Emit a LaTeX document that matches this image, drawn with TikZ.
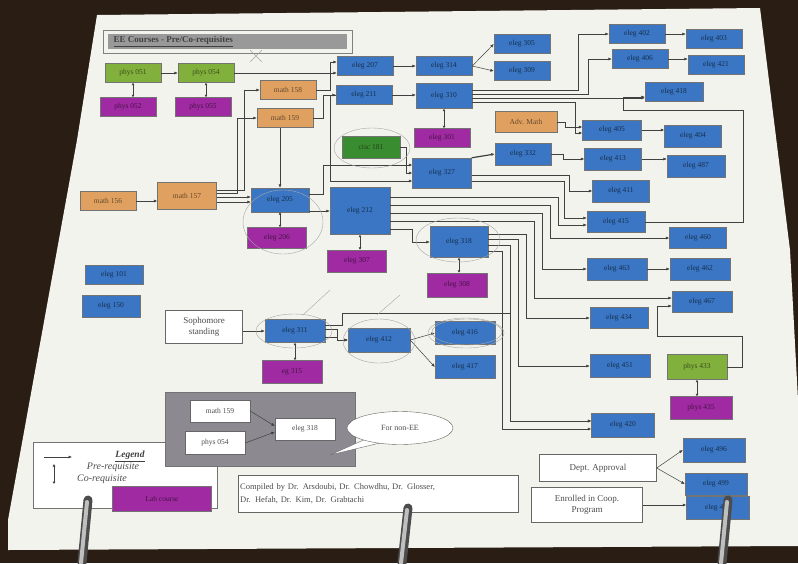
\documentclass[tikz,border=0pt]{standalone}
\usepackage{fontspec}
\setmainfont{Liberation Serif}
\usetikzlibrary{arrows.meta,shapes.geometric}

\definecolor{bgdark}{HTML}{2A1E14}
\definecolor{paper}{HTML}{F3F3EE}
\definecolor{eeblue}{HTML}{3A76C4}
\definecolor{labpurple}{HTML}{A02AA2}
\definecolor{mathorange}{HTML}{E0A060}
\definecolor{physgreen}{HTML}{82B03C}
\definecolor{cisgreen}{HTML}{3A8C30}
\definecolor{exgray}{HTML}{8C8A90}

\tikzset{
  crs/.style={draw=black!55, minimum width=56, minimum height=19, inner sep=0pt,
    font=\fontsize{7.5}{8}\selectfont},
  ee/.style={crs, fill=eeblue, text=black!60!eeblue},
  lab/.style={crs, fill=labpurple, text=black!55!labpurple},
  mth/.style={crs, fill=mathorange, text=black!55!mathorange},
  phy/.style={crs, fill=physgreen, text=black!55!physgreen},
  wbox/.style={draw=black!60, fill=white, inner sep=2pt, align=center,
    font=\fontsize{9}{10.5}\selectfont, text=black!70},
  pre/.style={draw=black!75, line width=0.5pt, -{Latex[length=3.5pt,width=3pt]}},
  coreq/.style={draw=black!75, line width=0.6pt,
    {Latex[length=2.5pt,width=3pt]}-{Latex[length=2.5pt,width=3pt]}},
  pencil/.style={draw=black!35, line width=0.4pt},
}

\begin{document}
\begin{tikzpicture}[x=1pt,y=-1pt]
  \useasboundingbox (0,0) rectangle (798,563);

  % photo background and sheet
  \fill[bgdark] (0,0) rectangle (798,563);
  \fill[paper] (97,15) -- (760,8) -- (790,250) -- (798,400) -- (798,546)
    -- (8,550) -- (8,520) -- (77,140) -- cycle;

  % title
  \draw[black!50] (103,30) rectangle (352,53);
  \fill[black!40] (108,34) rectangle (347,49);
  \node[anchor=west, font=\fontsize{9}{10}\selectfont\bfseries, text=black!75]
    (title) at (110,41.5) {\underline{EE Courses - Pre/Co-requisites}};

  % physics and math
  \node[phy] (p51) at (133,73) {phys 051};
  \node[phy] (p54) at (206,73) {phys 054};
  \node[lab] (p52) at (128,107) {phys 052};
  \node[lab] (p55) at (203,107) {phys 055};
  \node[mth] (m158) at (288,90) {math 158};
  \node[mth] (m159) at (285,118) {math 159};
  \node[mth] (m156) at (108,201) {math 156};
  \node[mth, minimum width=59, minimum height=27] (m157) at (187,196) {math 157};

  % sophomore courses
  \node[ee] (e207) at (365,66) {eleg 207};
  \node[ee] (e211) at (364,95) {eleg 211};
  \node[ee, minimum width=58, minimum height=24] (e205) at (280,200) {eleg 205};
  \node[lab, minimum width=59, minimum height=21] (e206) at (277,238) {eleg 206};
  \node[ee, minimum width=60, minimum height=47] (e212) at (360,211) {eleg 212};
  \node[lab, minimum width=59, minimum height=22] (e307) at (357,261) {eleg 307};
  \node[ee, fill=cisgreen, text=black!50!cisgreen, minimum width=58, minimum height=22]
    (c181) at (371,147) {cisc 181};
  \node[ee, minimum width=58] (e101) at (114,275) {eleg 101};
  \node[ee, minimum width=58, minimum height=22] (e150) at (111,306) {eleg 150};

  % junior courses
  \node[ee] (e314) at (444,66) {eleg 314};
  \node[ee, minimum height=25] (e310) at (444,96) {eleg 310};
  \node[lab] (e301) at (442,138) {eleg 301};
  \node[ee] (e305) at (522,44) {eleg 305};
  \node[ee] (e309) at (522,71) {eleg 309};
  \node[mth, minimum width=62, minimum height=21] (adv) at (526,122) {Adv. Math};
  \node[ee, minimum width=59, minimum height=30] (e327) at (442,173) {eleg 327};
  \node[ee, minimum height=22] (e332) at (523,154) {eleg 332};
  \node[ee, minimum width=58, minimum height=31] (e318) at (459,242) {eleg 318};
  \node[lab, minimum width=60, minimum height=24] (e308) at (457,285) {eleg 308};
  \node[wbox, minimum width=77, minimum height=33] (soph) at (204,327) {Sophomore\\standing};
  \node[ee, minimum width=60, minimum height=23] (e311) at (295,331) {eleg 311};
  \node[lab, minimum width=60, minimum height=23] (eg315) at (292,372) {eg 315};
  \node[ee, minimum width=62, minimum height=24] (e412) at (379,340) {eleg 412};
  \node[ee, minimum width=60, minimum height=23] (e416) at (465,333) {eleg 416};
  \node[ee, minimum width=60, minimum height=23] (e417) at (465,367) {eleg 417};

  % senior courses
  \node[ee] (e402) at (637,34) {eleg 402};
  \node[ee] (e403) at (714,39) {eleg 403};
  \node[ee] (e406) at (640,59) {eleg 406};
  \node[ee] (e421) at (716,65) {eleg 421};
  \node[ee, minimum width=58] (e418) at (674,92) {eleg 418};
  \node[ee, minimum width=59, minimum height=20] (e405) at (612,130) {eleg 405};
  \node[ee, minimum width=57, minimum height=22] (e404) at (693,136) {eleg 404};
  \node[ee, minimum width=57, minimum height=22] (e413) at (613,159) {eleg 413};
  \node[ee, minimum width=58, minimum height=22] (e487) at (696,166) {eleg 487};
  \node[ee, minimum width=57, minimum height=22] (e411) at (621,191) {eleg 411};
  \node[ee, minimum width=58, minimum height=21] (e415) at (616,222) {eleg 415};
  \node[ee, minimum width=57, minimum height=21] (e460) at (698,238) {eleg 460};
  \node[ee, minimum width=60, minimum height=22] (e463) at (617,269) {eleg 463};
  \node[ee, minimum width=60, minimum height=22] (e462) at (700,269) {eleg 462};
  \node[ee, minimum width=60, minimum height=21] (e467) at (702,302) {eleg 467};
  \node[ee, minimum width=58, minimum height=21] (e434) at (619,318) {eleg 434};
  \node[ee, minimum width=60, minimum height=23] (e451) at (620,366) {eleg 451};
  \node[phy, minimum width=60, minimum height=25] (p433) at (697,367) {phys 433};
  \node[lab, minimum width=62, minimum height=23] (p435) at (701,408) {phys 435};
  \node[ee, minimum width=63, minimum height=24] (e420) at (623,425) {eleg 420};
  \node[ee, minimum width=62, minimum height=24] (e496) at (714,450) {eleg 496};
  \node[ee, minimum width=62, minimum height=22] (e499) at (716,484) {eleg 499};
  \node[ee, minimum width=63, minimum height=23] (e497) at (718,508) {eleg 497};
  \node[wbox, minimum width=117, minimum height=27] (dept) at (598,468) {Dept. Approval};
  \node[wbox, minimum width=111, minimum height=35] (coop) at (587,505) {Enrolled in Coop.\\Program};

  % pre- and co-requisites, left part
  \draw[pre] (p51) -- (p54);
  \draw[coreq] (p51.south) -- (p51.south |- p52.north);
  \draw[coreq] (p54.south) -- (p54.south |- p55.north);
  \draw[pre] (p54.east) -- (p54.east -| e207.west);
  \draw[pre] (m158.east) -- ++(14,0) |- ([yshift=4]e207.west);
  \draw[pre] (m159.east) -- ++(10,0) |- (e211.west);
  \draw[pre] (m156.east) -- (m156.east -| m157.west);
  \draw[pre] ([yshift=6]m157.east) -- ++(28,0) |- (m158.west);
  \draw[pre] ([yshift=3]m157.east) -- ++(21,0) |- (m159.west);
  \draw[pre] ([yshift=-1]m157.east) -- ([yshift=-1]m157.east -| e205.west);
  \draw[pre] ([yshift=-6]m157.east) -- ([yshift=-6]m157.east -| e205.west);
  \draw[pre] (m159.south -| e205.north) -- (e205.north);
  \draw[coreq] (e205.south) -- (e205.south |- e206.north);
  \draw[pre] (e205.east |- e212.west) -- (e212.west);
  \draw[pre] ([yshift=6]e205.east) -- ++(14,0) |- ([yshift=8]e327.west);
  \draw[pre] (c181.east) -- ++(6,0) |- (e327.west);
  \draw[pre] (e211.west) -- ++(-6,0) |- ([yshift=-8]e327.west);
  \draw[coreq] (e212.south) -- (e212.south |- e307.north);

  % junior to senior
  \draw[pre] (e207) -- (e314);
  \draw[pre] (e211.east) -- (e211.east -| e310.west);
  \draw[pre] (e314.east) -- (e305.west);
  \draw[pre] (e314.east) -- (e309.west);
  \draw[coreq] (e310.south) -- (e310.south |- e301.north);
  \draw[pre] ([yshift=6]e310.east) -- ++(106,0) |- (e402.west);
  \draw[pre] ([yshift=2]e310.east) -- ++(116,0) |- (e406.west);
  \draw[pre] ([yshift=-2]e310.east) -- ([yshift=-2]e310.east -| e418.west);
  \draw[pre] ([yshift=-6]e310.east) -- ++(103,0) |- ([yshift=-3]e405.west);
  \draw[pre] (adv.east) -- ++(8,0) |- ([yshift=3]e405.west);
  \draw[pre] (e402.east) -- (e402.east -| e403.west);
  \draw[pre] (e406.east) -- (e406.east -| e421.west);
  \draw[pre] (e405.east) -- (e405.east -| e404.west);
  \draw[pre] (e413.east) -- (e413.east -| e487.west);
  \draw[pre, line width=1.2pt] (e327.north east) -- (e332.west);
  \draw[pre] (e332.east) -- ++(12,0) |- (e413.west);
  \draw[pre] ([yshift=-2]e327.east) -- ++(98,0) |- (e411.west);
  \draw[pre] ([yshift=-8]e327.east) -- ++(93,0) |- ([yshift=4]e415.west);
  \draw[pre] ([yshift=14]e212.east) -- ++(168,0) |- ([yshift=-3]e415.west);
  \draw[pre] ([yshift=6]e212.east) -- ++(160,0) |- (e460.west);
  \draw[pre] ([yshift=-2]e212.east) -- ++(152,0) |- (e463.west);
  \draw[pre] ([yshift=-10]e212.east) -- ++(144,0) |- ([yshift=4]e467.west);
  \draw[pre] ([yshift=-18]e212.east) -- ++(22,0) |- (e318.west);
  \draw[coreq] (e318.south) -- (e318.south |- e308.north);
  \draw[pre] ([yshift=8]e318.east) -- ++(38,0) |- (e434.west);
  \draw[pre] ([yshift=3]e318.east) -- ++(30,0) |- (e451.west);
  \draw[pre] ([yshift=-3]e318.east) -- ++(22,0) |- ([yshift=4]e420.west);
  \draw[pre] ([yshift=-9]e318.east) -- ++(14,0) |- ([yshift=-4]e420.west);
  \draw[pre] (e463) -- (e462);
  \draw[pre] (e415.east) -- ++(98,0) |- ([xshift=-22,yshift=-18]e418.west)
    |- ([yshift=-5]e418.west);
  \draw[coreq] (p433.south) -- (p433.south |- p435.north);
  \draw[pre] (p433.east) -- ++(15,0) |- ([xshift=-15,yshift=-34]e467.west)
    |- ([yshift=-4]e467.west);

  % lower part
  \draw[pre] (soph.east |- e311.west) -- (e311.west);
  \draw[coreq] (e311.south) -- (e311.south |- eg315.north);
  \draw[pre] ([yshift=2]e311.east) -- ++(12,0) |- (e412.west);
  \draw[pre] ([yshift=-6]e311.east) -- ++(12,0) |- (e412.west);
  \draw[pre] ([yshift=6]e311.east) -- ++(17,0) -- ++(0,-12) -- ++(168,0)
    |- ([yshift=4]e420.west);
  \draw[pre] (e412.east) -- (e416.west);
  \draw[pre] (e412.east) -- (e417.west);
  \draw[pre] (dept.east) -- (e496.west);
  \draw[pre] (dept.east) -- (e499.west);
  \draw[pre] (coop.east) -- (coop.east -| e497.west);

  % legend
  \draw[black!55, fill=white] (33,442) rectangle (217,508);
  \node[font=\fontsize{9.5}{10}\selectfont\bfseries\itshape, text=black!75] (lgd) at (130,456) {\underline{Legend}};
  \coordinate (la) at (44,457);
  \coordinate (lb) at (72,457);
  \draw[pre] (la) -- (lb);
  \coordinate (lc) at (54,464);
  \coordinate (ld) at (54,484);
  \draw[coreq] (lc) -- (ld);
  \node[font=\fontsize{10}{10}\selectfont\itshape, text=black!70] (lpre) at (113,467) {Pre-requisite};
  \node[font=\fontsize{10}{10}\selectfont\itshape, text=black!70] (lco) at (102,479) {Co-requisite};
  \node[lab, minimum width=99, minimum height=25] (llab) at (162,499) {Lab course};

  % example box
  \draw[black!55, fill=exgray] (165,392) rectangle (355,466);
  \node[wbox, minimum width=60, minimum height=22, font=\fontsize{7.5}{8}\selectfont] (xm) at (220,411) {math 159};
  \node[wbox, minimum width=60, minimum height=23, font=\fontsize{7.5}{8}\selectfont] (xp) at (215,443) {phys 054};
  \node[wbox, minimum width=60, minimum height=22, font=\fontsize{7.5}{8}\selectfont] (xe) at (305,429) {eleg 318};
  \draw[pre] (xm.east) -- ([yshift=3]xe.west);
  \draw[pre] (xp.east) -- ([yshift=-3]xe.west);
  \draw[black!60, fill=white] (368,438) -- (330,455) -- (380,443);
  \node[ellipse, draw=black!60, fill=white, minimum width=106, minimum height=33,
    inner sep=0pt, font=\fontsize{8}{8}\selectfont, text=black!70] (fne) at (400,428) {For non-EE};

  % credits
  \node[wbox, anchor=north west, text width=276, align=left, minimum height=37,
    font=\fontsize{8.5}{13}\selectfont] (cred) at (238,475)
    {Compiled by Dr. Arsdoubi, Dr. Chowdhu, Dr. Glosser,\\Dr. Hefah, Dr. Kim, Dr. Grabtachi};

  % pencil marks
  \draw[pencil] (379,341) ellipse (36 and 22);
  \draw[pencil] (466,333) ellipse (38 and 15);
  \draw[pencil] (467,332) ellipse (35 and 13);
  \draw[pencil] (458,240) ellipse (42 and 22);
  \draw[pencil] (294,331) ellipse (38 and 17);
  \draw[pencil] (283,222) ellipse (40 and 32);
  \draw[pencil] (372,148) ellipse (38 and 20);
  \draw[pencil] (330,290) -- (303,315);
  \draw[pencil] (400,295) -- (377,315);
  \draw[pencil] (250,50) -- (262,62) (262,50) -- (250,62);

  % binder rings
  \foreach \rx/\ry in {82/500, 402/508, 722/500}{
    \draw[line width=9pt, line cap=round, black!70] (\rx,563) -- (\rx+6,\ry);
    \draw[line width=4pt, line cap=round, black!25] (\rx-1,563) -- (\rx+5,\ry+2);
  }
\end{tikzpicture}
\end{document}
